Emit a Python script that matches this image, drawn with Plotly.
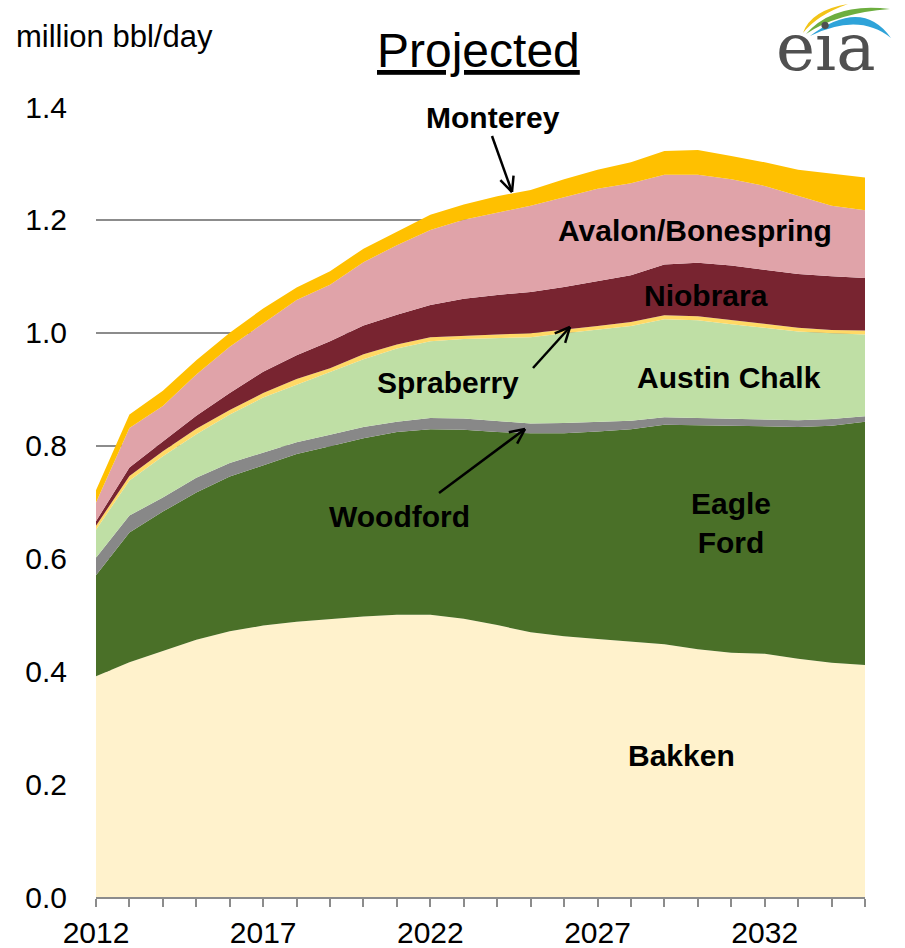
import math

import plotly.graph_objects as go

WIDTH, HEIGHT = 905, 948
MARGIN = {"l": 96, "r": 40, "t": 107, "b": 51}
PLOT_W = WIDTH - MARGIN["l"] - MARGIN["r"]
PLOT_H = HEIGHT - MARGIN["t"] - MARGIN["b"]
FONT = "Liberation Sans, Arial, sans-serif"

years = list(range(2012, 2036))
tick_labels = [str(y) if (y - 2012) % 5 == 0 else "" for y in years]

bakken = [0.391, 0.416, 0.436, 0.456, 0.471, 0.481, 0.488, 0.493, 0.497, 0.500, 0.500, 0.493,
          0.482, 0.469, 0.462, 0.457, 0.452, 0.448, 0.439, 0.433, 0.431, 0.422, 0.415, 0.411]
eagle_ford = [0.179, 0.230, 0.247, 0.261, 0.274, 0.284, 0.297, 0.306, 0.316, 0.324, 0.329, 0.335,
              0.342, 0.353, 0.360, 0.368, 0.377, 0.389, 0.397, 0.402, 0.404, 0.411, 0.420, 0.431]
woodford = [0.031, 0.030, 0.025, 0.026, 0.024, 0.023, 0.021, 0.020, 0.020, 0.018, 0.020, 0.020,
            0.020, 0.017, 0.018, 0.017, 0.015, 0.013, 0.013, 0.012, 0.012, 0.012, 0.012, 0.010]
austin_chalk = [0.050, 0.062, 0.073, 0.077, 0.086, 0.097, 0.102, 0.112, 0.120, 0.130, 0.136, 0.141,
                0.147, 0.153, 0.159, 0.163, 0.168, 0.174, 0.173, 0.168, 0.162, 0.157, 0.152, 0.145]
spraberry = [0.007, 0.008, 0.009, 0.010, 0.008, 0.008, 0.010, 0.006, 0.009, 0.007, 0.007, 0.006,
             0.006, 0.007, 0.006, 0.007, 0.007, 0.007, 0.007, 0.007, 0.006, 0.007, 0.006, 0.007]
niobrara = [0.008, 0.015, 0.017, 0.023, 0.030, 0.038, 0.042, 0.048, 0.051, 0.053, 0.057, 0.065,
            0.070, 0.073, 0.076, 0.079, 0.083, 0.090, 0.095, 0.097, 0.097, 0.095, 0.095, 0.093]
avalon_bonespring = [0.033, 0.070, 0.063, 0.073, 0.082, 0.086, 0.098, 0.100, 0.112, 0.123, 0.133, 0.140,
                     0.146, 0.153, 0.159, 0.164, 0.163, 0.159, 0.156, 0.153, 0.148, 0.138, 0.125, 0.120]
monterey = [0.022, 0.024, 0.027, 0.025, 0.025, 0.026, 0.022, 0.024, 0.024, 0.024, 0.027, 0.027,
            0.029, 0.028, 0.032, 0.034, 0.037, 0.042, 0.044, 0.041, 0.042, 0.047, 0.057, 0.058]

series = [
    ("Bakken", bakken, "#FFF2CC"),
    ("Eagle Ford", eagle_ford, "#4A7028"),
    ("Woodford", woodford, "#888888"),
    ("Austin Chalk", austin_chalk, "#BFDFA5"),
    ("Spraberry", spraberry, "#FFD966"),
    ("Niobrara", niobrara, "#782430"),
    ("Avalon/Bonespring", avalon_bonespring, "#E0A3A9"),
    ("Monterey", monterey, "#FFC000"),
]


def paper(px, py):
    # page pixel -> plot paper fraction
    return (px - MARGIN["l"]) / PLOT_W, (HEIGHT - MARGIN["b"] - py) / PLOT_H


def label(text, px, py, size=30, bold=True, color="black", family=FONT, xanchor="center"):
    x, y = paper(px, py)
    return dict(
        text=f"<b>{text}</b>" if bold else text,
        x=x, y=y, xref="paper", yref="paper",
        xanchor=xanchor, yanchor="middle", showarrow=False,
        font={"family": family, "size": size, "color": color},
    )


def arrow(tail, head, head_len=15, head_half=7):
    x0, y0 = tail
    x1, y1 = head
    dx, dy = x1 - x0, y1 - y0
    n = math.hypot(dx, dy)
    ux, uy = dx / n, dy / n
    bx, by = x1 - ux * head_len, y1 - uy * head_len
    shapes = []
    for a, b in ((tail, head),
                 ((bx - uy * head_half, by + ux * head_half), head),
                 ((bx + uy * head_half, by - ux * head_half), head)):
        ax_, ay_ = paper(*a)
        bx_, by_ = paper(*b)
        shapes.append(dict(type="line", xref="paper", yref="paper",
                           x0=ax_, y0=ay_, x1=bx_, y1=by_,
                           line={"color": "black", "width": 2.5}))
    return shapes


def swoosh(p0, c_outer, p1, c_inner, color):
    pts = [paper(*p) for p in (p0, c_outer, p1, c_inner)]
    (a, b), (c, d), (e, f), (g, h) = pts
    path = f"M {a},{b} Q {c},{d} {e},{f} Q {g},{h} {a},{b} Z"
    return dict(type="path", xref="paper", yref="paper", path=path,
                fillcolor=color, line={"width": 0})


fig = go.Figure()
for name, values, color in series:
    fig.add_trace(
        go.Scatter(
            x=years, y=values, name=name, mode="lines",
            stackgroup="one", line={"width": 0, "color": color},
            fillcolor=color, hoverinfo="x+y+name",
        )
    )

annotations = [
    label("Monterey", 493, 118),
    label("Avalon/Bonespring", 695, 230),
    label("Niobrara", 706, 295),
    label("Austin Chalk", 729, 377),
    label("Spraberry", 448, 382),
    label("Woodford", 399, 516),
    label("Eagle<br>Ford", 731, 523),
    label("Bakken", 681, 755),
    label("million bbl/day", 14, 37, size=31, bold=False, xanchor="left"),
    label("<u>Projected</u>", 478, 50, size=48, bold=False),
    label("eia", 826, 47, size=66, bold=False, color="#505050",
          family="DejaVu Serif, Liberation Serif, serif"),
]

shapes = []
shapes += arrow((492, 136), (512, 192))
shapes += arrow((533, 368), (570, 327))
shapes += arrow((439, 493), (525, 429))
shapes.append(swoosh((803, 33), (811, 10), (848, 4), (817, 15), "#F2C418"))
shapes.append(swoosh((806, 34), (834, 2), (890, 9), (837, 13), "#6DAE3F"))
shapes.append(swoosh((810, 36), (862, -3), (891, 38), (859, 12), "#2EA3D9"))

fig.update_layout(
    width=WIDTH,
    height=HEIGHT,
    margin=MARGIN,
    autosize=False,
    paper_bgcolor="white",
    plot_bgcolor="white",
    showlegend=False,
    font={"family": FONT, "size": 30, "color": "black"},
    annotations=annotations,
    shapes=shapes,
    xaxis={
        "range": [2012, 2035],
        "tickmode": "array",
        "tickvals": years,
        "ticktext": tick_labels,
        "ticks": "outside",
        "ticklen": 8,
        "tickwidth": 2,
        "tickcolor": "#8c8c8c",
        "showline": True,
        "linecolor": "#8c8c8c",
        "linewidth": 2,
        "showgrid": False,
        "zeroline": False,
        "automargin": False,
        "tickfont": {"size": 30},
    },
    yaxis={
        "range": [0, 1.4],
        "dtick": 0.2,
        "tickformat": ".1f",
        "showgrid": True,
        "gridcolor": "#8c8c8c",
        "gridwidth": 2,
        "zeroline": False,
        "showline": False,
        "ticks": "",
        "automargin": False,
        "ticklabelstandoff": 28,
        "tickfont": {"size": 30},
    },
)

fig.write_html(
    "out.html",
    config={"displayModeBar": False},
    post_script="document.body.style.margin='0';",
)
